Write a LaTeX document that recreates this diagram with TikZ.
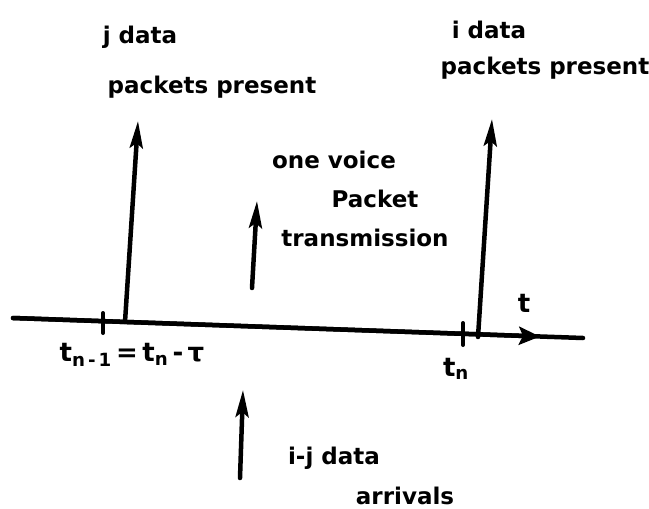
\documentclass[tikz,border=0pt]{standalone}
\usepackage{fontspec}
\setmainfont{DejaVu Sans}
\usetikzlibrary{arrows.meta}

\begin{document}
\begin{tikzpicture}[
    x=1pt, y=-1pt,
    hand/.style={font=\bfseries\fontsize{23}{27}\selectfont, inner sep=0pt},
    handbig/.style={font=\bfseries\fontsize{26}{30}\selectfont, inner sep=0pt},
    spike/.style={line width=4.5pt, line cap=round, -{Stealth[length=27pt, width=13pt, inset=5pt]}},
    timeline/.style={line width=4.5pt, line cap=round},
    tickmark/.style={line width=4pt, line cap=round}
]
\useasboundingbox (0,0) rectangle (649,509);

% time axis
\coordinate (axstart) at (13,318);
\coordinate (axend) at (583,338);
\coordinate (axtip) at (540,336.5);
\draw[timeline] (axstart) -- (axend);
\draw[timeline, -{Stealth[length=21pt, width=18pt, inset=4pt]}] (axstart) -- (axtip);
\node[handbig] (tlabel) at (524,303) {t};

% ticks
\coordinate (tickA) at (103,313);
\coordinate (tickAb) at (103,333);
\coordinate (tickB) at (463,323);
\coordinate (tickBb) at (463,345);
\draw[tickmark] (tickA) -- (tickAb);
\draw[tickmark] (tickB) -- (tickBb);
\node[handbig] (tprev) at (132,355) {t\textsubscript{n\,-\,1}\,=\,t\textsubscript{n}\,-\,τ};
\node[handbig] (tnow) at (456,369) {t\textsubscript{n}};

% data packets present
\coordinate (jbase) at (125,322);
\coordinate (jtip) at (138,121);
\draw[spike] (jbase) -- (jtip);
\node[hand] (jline1) at (140,37) {j data};
\node[hand] (jline2) at (212,87) {packets present};

\coordinate (ibase) at (478,337);
\coordinate (itip) at (492,119);
\draw[spike] (ibase) -- (itip);
\node[hand] (iline1) at (489,30) {i data};
\node[hand] (iline2) at (545,68) {packets present};

% voice packet
\coordinate (vbase) at (252,288);
\coordinate (vtip) at (257,201);
\draw[spike] (vbase) -- (vtip);
\node[hand] (vline1) at (334,160) {one voice};
\node[hand] (vline2) at (375,199) {Packet};
\node[hand] (vline3) at (365,238) {transmission};

% arrivals
\coordinate (abase) at (240,478);
\coordinate (atip) at (243,390);
\draw[spike] (abase) -- (atip);
\node[hand] (aline1) at (334,458) {i-j data};
\node[hand] (aline2) at (405,496) {arrivals};

\end{tikzpicture}
\end{document}
